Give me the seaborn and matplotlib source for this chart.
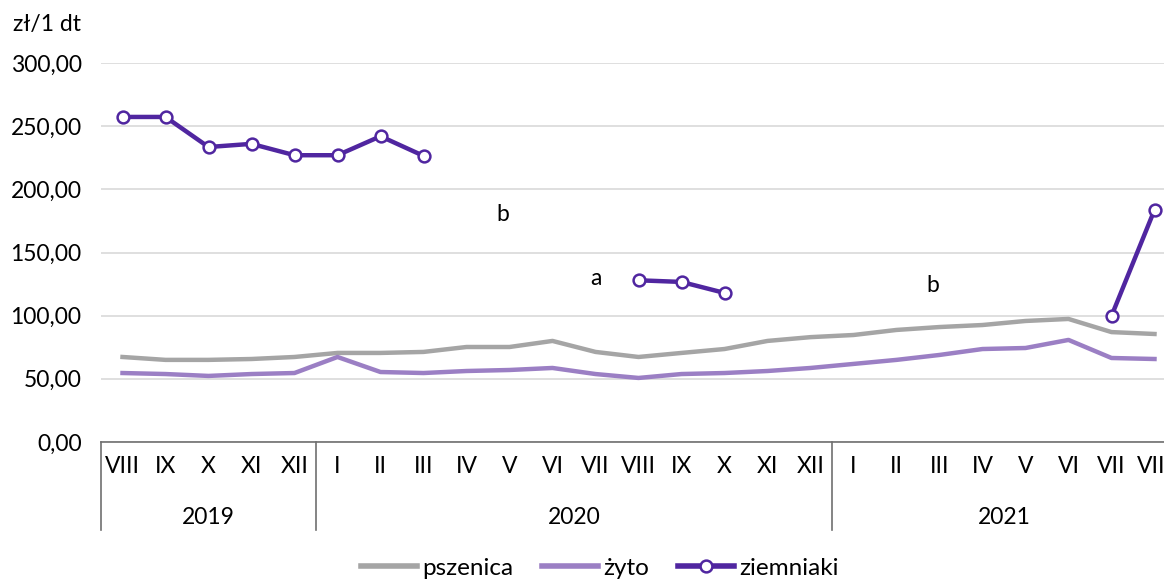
import numpy as np
import pandas as pd
import seaborn as sns
import matplotlib.pyplot as plt
from matplotlib.lines import Line2D
from matplotlib.ticker import FuncFormatter

# Data (zł/1 dt)
months = ['VIII', 'IX', 'X', 'XI', 'XII',
          'I', 'II', 'III', 'IV', 'V', 'VI', 'VII', 'VIII', 'IX', 'X', 'XI', 'XII',
          'I', 'II', 'III', 'IV', 'V', 'VI', 'VII', 'VIII']
years = ['2019', '2020', '2021']
year_lengths = [5, 12, 8]

pszenica = [67.3, 65.0, 65.0, 65.7, 67.3,
            70.5, 70.5, 71.3, 75.2, 75.2, 80.0, 71.3, 67.3, 70.5, 73.6, 80.0, 83.0,
            84.7, 88.7, 91.0, 92.6, 95.8, 97.4, 87.0, 85.5]
zyto = [54.6, 53.8, 52.3, 53.8, 54.6,
        67.3, 55.4, 54.6, 56.2, 57.0, 58.6, 53.8, 50.7, 53.8, 54.6, 56.2, 58.6,
        61.8, 65.0, 68.9, 73.6, 74.4, 80.8, 66.5, 65.7]
ziemniaki = [257.3, 257.3, 233.5, 236.0, 227.0,
             227.0, 242.0, 226.5, np.nan, np.nan, np.nan, np.nan, 128.0, 126.7, 118.0, np.nan, np.nan,
             np.nan, np.nan, np.nan, np.nan, np.nan, np.nan, 99.8, 183.7]

notes = ['b', 'a', 'b']
note_x = [8.84, 11.0, 18.84]
note_y = [179.7, 129.8, 123.5]

c_psz = '#a5a5a5'
c_zyto = '#9b7fc4'
c_ziem = '#5026a0'

plt.rcParams['font.family'] = ['Lato', 'DejaVu Sans']
plt.rcParams['font.size'] = 16.5

x = np.arange(len(months))
df = pd.DataFrame({'x': x, 'pszenica': pszenica, 'zyto': zyto, 'ziemniaki': ziemniaki})
# segment ids so the potato line breaks where data is missing
df['seg'] = df['ziemniaki'].isna().cumsum()
ziem = df.dropna(subset=['ziemniaki'])

fig = plt.figure(figsize=(11.64, 5.81), dpi=100)
ax = fig.add_axes([101 / 1164, 1 - 442 / 581, 1075 / 1164, 379 / 581])

ax.set_ylim(0, 300)
ax.set_xlim(-0.5, 24.5)
ax.set_yticks(np.arange(0, 301, 50))
ax.yaxis.set_major_formatter(FuncFormatter(lambda v, p: f'{v:.2f}'.replace('.', ',')))
ax.grid(axis='y', color='#d9d9d9', lw=1.2)
ax.set_axisbelow(True)
for s in ['top', 'right', 'left']:
    ax.spines[s].set_visible(False)
ax.spines['bottom'].set_color('#707070')
ax.spines['bottom'].set_linewidth(1.2)

sns.lineplot(data=df, x='x', y='pszenica', color=c_psz, lw=3.2, ax=ax)
sns.lineplot(data=df, x='x', y='zyto', color=c_zyto, lw=3.2, ax=ax)
sns.lineplot(data=ziem, x='x', y='ziemniaki', units='seg', estimator=None,
             color=c_ziem, lw=3.2, marker='o', markersize=8.5,
             markerfacecolor='white', markeredgecolor=c_ziem, markeredgewidth=1.8, ax=ax)

ax.set_xticks(x, labels=months)
ax.tick_params(axis='x', length=0, pad=10)
ax.tick_params(axis='y', length=0, pad=14)
ax.set_xlabel('')
ax.set_ylabel('')

# year groups under the month labels
trans = ax.get_xaxis_transform()
start = -0.5
for yr, n in zip(years, year_lengths):
    ax.plot([start, start], [0, -88 / 379], color='#707070', lw=1.2,
            transform=trans, clip_on=False)
    ax.text(start + n / 2, -76 / 379, yr, transform=trans, ha='center', va='center')
    start += n

for t, xx, yy in zip(notes, note_x, note_y):
    ax.text(xx, yy, t, ha='center', va='center')

fig.text(13 / 1164, 1 - 25 / 581, 'zł/1 dt', ha='left', va='center')

handles = [Line2D([], [], color=c_psz, lw=4),
           Line2D([], [], color=c_zyto, lw=4),
           Line2D([], [], color=c_ziem, lw=4, marker='o', markersize=8.5,
                  markerfacecolor='white', markeredgecolor=c_ziem, markeredgewidth=1.8)]
fig.legend(handles, ['pszenica', 'żyto', 'ziemniaki'], loc='center',
           bbox_to_anchor=(600 / 1164, 1 - 568 / 581), ncol=3, frameon=False,
           fontsize=17.5, handlelength=2.3, handletextpad=0.2, columnspacing=1.2)

fig.savefig('out.png', dpi=100)
